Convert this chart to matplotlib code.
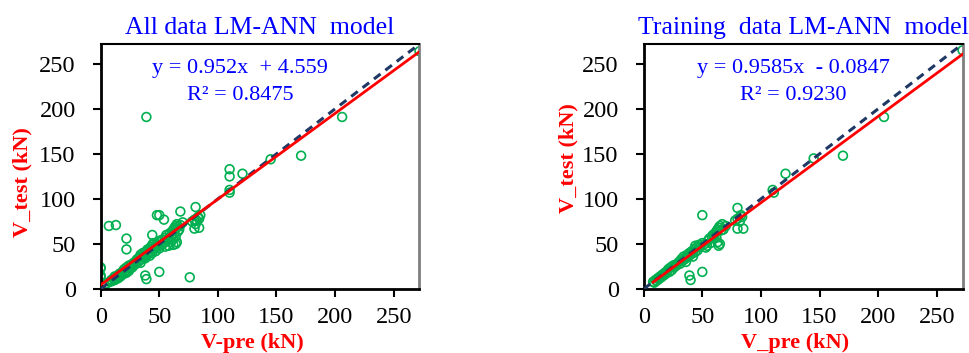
import matplotlib
matplotlib.use('Agg')
import matplotlib.pyplot as plt
import numpy as np

plt.rcParams['font.family'] = ['Liberation Serif', 'DejaVu Serif']

# all data (V-pre, V_test)
all_pre = [0, 0, 0, 0, 7, 13, 22, 22, 44, 38, 39, 50, 76,
           48, 50, 54, 68, 81, 80, 84, 85,
           110, 110, 110, 110, 121, 145, 171, 206, 272, 39,
           8, 9, 10, 11, 12, 12, 13, 14, 15, 15, 16, 17, 18, 18, 19, 20, 20, 21,
           22, 22, 23, 24, 24, 25, 26, 27, 28, 29, 30, 30, 31, 32, 33, 34, 34,
           35, 36, 36, 37, 38, 38, 39, 40, 40, 41, 42, 42, 43, 43, 44, 44, 45,
           45, 46, 47, 47, 48, 49, 50, 50, 51, 52, 53, 54, 55, 55, 56, 57, 58,
           59, 60, 60, 61, 61, 62, 62, 63, 63, 64, 64, 65, 65, 66, 66, 67, 68,
           64, 62, 58, 70, 78, 80, 82, 83, 84, 81, 5, 3]
all_test = [24, 23, 15, 13, 70, 71, 56, 44, 60, 15, 11, 19, 13,
            82, 82, 77, 86, 91, 67, 68, 82,
            133, 125, 110, 107, 128, 144, 148, 191, 264, 191,
            8, 10, 9, 12, 10, 14, 11, 13, 15, 12, 17, 14, 18, 16, 20, 17, 22, 19,
            24, 18, 21, 26, 20, 23, 27, 24, 29, 27, 31, 28, 33, 30, 35, 29, 38,
            33, 37, 40, 35, 39, 34, 42, 38, 44, 40, 45, 37, 47, 42, 49, 40, 44,
            51, 46, 48, 42, 50, 47, 52, 45, 54, 49, 55, 51, 57, 47, 60, 54, 56,
            62, 58, 52, 64, 60, 66, 56, 68, 62, 70, 58, 72, 52, 64, 69, 66, 71,
            50, 49, 48, 74, 75, 77, 76, 80, 78, 72, 6, 4]

# training data (V_pre, V_test)
tr_pre = [272, 205, 170, 145, 121, 110, 111, 80, 50, 80, 85, 83, 50, 39, 40,
          8, 9, 10, 11, 12, 13, 14, 15, 16, 17, 18, 19, 20, 21, 22, 23, 24, 25,
          26, 27, 28, 30, 31, 32, 33, 34, 35, 36, 37, 38, 39, 40, 41, 42, 43,
          44, 44, 45, 46, 47, 48, 50, 52, 53, 54, 55, 56, 57, 58, 59, 60, 61,
          62, 62, 63, 63, 64, 64, 65, 66, 67, 65, 68, 70, 78, 80, 82, 84, 36, 42]
tr_test = [265, 191, 148, 145, 128, 110, 107, 90, 82, 67, 67, 82, 19, 15, 10,
           8, 7, 10, 9, 12, 11, 14, 13, 16, 15, 18, 17, 20, 22, 19, 24, 21, 26,
           24, 27, 26, 30, 28, 33, 31, 36, 33, 35, 38, 36, 40, 38, 42, 40, 44,
           41, 48, 46, 43, 49, 47, 51, 50, 46, 48, 54, 56, 51, 58, 60, 59, 62,
           64, 57, 66, 52, 68, 48, 70, 65, 72, 50, 66, 70, 76, 78, 75, 80, 30, 36]

panels = [
    dict(pre=all_pre, test=all_test, slope=0.952, icpt=4.559, x0=0,
         title='All data LM-ANN  model', xlabel='V-pre (kN)',
         eq='y = 0.952x  + 4.559', r2='R² = 0.8475', left=0.1039,
         ylab=(-0.215, 0.437), eqx=0.437),
    dict(pre=tr_pre, test=tr_test, slope=0.9585, icpt=-0.0847, x0=8,
         title='Training  data LM-ANN  model', xlabel='V_pre (kN)',
         eq='y = 0.9585x  - 0.0847', r2='R² = 0.9230', left=0.6643,
         ylab=(-0.205, 0.535), eqx=0.47),
]

fig = plt.figure(figsize=(9.69, 3.53), dpi=100)
lim = 272
ticks = [0, 50, 100, 150, 200, 250]

for p in panels:
    ax = fig.add_axes([p['left'], 0.1813, 0.329, 0.694])
    ax.scatter(p['pre'], p['test'], s=40, facecolors='none',
               edgecolors='#00b050', linewidths=1.2, zorder=2)
    xl = np.array([0, lim])
    ax.plot(xl, xl, color='#1f3864', lw=2.2, dashes=(2.7, 2.0), zorder=3)
    xf = np.array([p['x0'], lim])
    ax.plot(xf, p['slope'] * xf + p['icpt'], color='#ff0000', lw=2, zorder=4)

    ax.set_xlim(0, lim)
    ax.set_ylim(0, lim)
    ax.set_xticks(ticks)
    ax.set_yticks(ticks)
    ax.tick_params(labelsize=17.5, direction='out', length=6, width=1.5,
                   top=False, right=False)
    ax.tick_params(axis='y', pad=12)
    ax.tick_params(axis='x', pad=7)
    for s in ['left', 'bottom']:
        ax.spines[s].set_linewidth(2)
    ax.spines['top'].set_linewidth(1.5)
    ax.spines['right'].set_linewidth(2)
    ax.spines['right'].set_color('#7f7f7f')

    ax.set_title(p['title'], color='#0000ff', fontsize=18.5, pad=7)
    ax.set_xlabel(p['xlabel'], color='#ff0000', fontsize=16, fontweight='bold')
    ax.xaxis.set_label_coords(0.475, -0.18)
    ax.set_ylabel('V_test (kN)', color='#ff0000', fontsize=16, fontweight='bold')
    ax.yaxis.set_label_coords(*p['ylab'])

    ax.text(p['eqx'], 0.90, p['eq'], transform=ax.transAxes, color='#0000ff',
            fontsize=16, ha='center', va='center')
    ax.text(p['eqx'], 0.79, p['r2'], transform=ax.transAxes, color='#0000ff',
            fontsize=16, ha='center', va='center')

fig.savefig('out.png', dpi=100)
